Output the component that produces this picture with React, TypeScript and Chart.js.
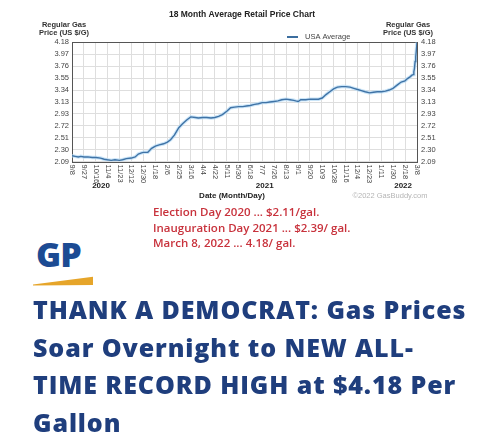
import React, { useEffect, useRef } from "react";
import { Chart, registerables } from "chart.js";

Chart.register(...registerables);

const X_LABELS = ["9/8","9/27","10/16","11/4","11/23","12/12","12/30","1/18","2/6","2/25","3/16","4/4","4/22","5/11","5/30","6/18","7/7","7/26","8/13","9/1","9/20","10/9","10/28","11/16","12/4","12/23","1/11","1/30","2/18","3/8"];
const TOTAL_DAYS = 546;
const Y_TICKS = [4.18, 3.97, 3.76, 3.55, 3.34, 3.13, 2.93, 2.72, 2.51, 2.30, 2.09];
const YEAR_LABELS = ["2020", "2021", "2022"];
const YEAR_DAYS = [46, 305, 524];

const DAYS = [0,5,10,14,19,25,32,38,45,51,56,62,68,75,80,86,94,100,105,110,113,120,126,132,138,145,151,156,162,169,175,182,188,195,200,207,213,220,226,232,238,245,251,257,264,270,276,282,289,295,301,307,313,320,326,332,339,345,351,354,358,362,370,377,384,390,396,402,408,414,420,427,433,440,446,452,458,464,471,477,483,490,496,502,508,515,521,527,531,535,538,540,541,542,543,544,545,546];
const PRICES = [2.19,2.18,2.17,2.18,2.17,2.17,2.16,2.16,2.15,2.13,2.12,2.11,2.12,2.11,2.12,2.14,2.15,2.17,2.22,2.24,2.25,2.25,2.32,2.36,2.38,2.40,2.43,2.47,2.55,2.68,2.75,2.82,2.87,2.86,2.85,2.86,2.86,2.85,2.86,2.88,2.91,2.97,3.03,3.04,3.05,3.05,3.06,3.07,3.09,3.10,3.12,3.12,3.13,3.14,3.15,3.17,3.18,3.17,3.16,3.15,3.14,3.17,3.17,3.18,3.18,3.18,3.20,3.26,3.31,3.36,3.39,3.40,3.40,3.39,3.37,3.35,3.33,3.31,3.29,3.30,3.31,3.31,3.32,3.34,3.37,3.43,3.48,3.50,3.54,3.57,3.60,3.61,3.66,3.72,3.84,3.92,4.04,4.17];

const NOTES = [
  "Election Day 2020 ... $2.11/gal.",
  "Inauguration Day 2021 ... $2.39/ gal.",
  "March 8, 2022 ... 4.18/ gal.",
];
const HEADLINE = ["THANK A DEMOCRAT: Gas Prices", "Soar Overnight to NEW ALL-", "TIME RECORD HIGH at $4.18 Per", "Gallon"];

const FONT = "'Liberation Sans', Arial, sans-serif";

const textPlugin = {
  id: "gbText",
  beforeDatasetsDraw(chart: any) {
    const { ctx, chartArea: a } = chart;
    ctx.save();
    ctx.strokeStyle = "#555";
    ctx.lineWidth = 1;
    ctx.strokeRect(Math.round(a.left) + 0.5, Math.round(a.top) + 0.5, Math.round(a.right - a.left), Math.round(a.bottom - a.top));
    ctx.restore();
  },
  afterDraw(chart: any) {
    const { ctx, chartArea: a, scales } = chart;
    const xs = scales.x;
    const ys = scales.y;
    ctx.save();
    ctx.fillStyle = "#222";
    ctx.textBaseline = "middle";
    ctx.textAlign = "center";
    ctx.font = `bold 8.5px ${FONT}`;
    ctx.fillText("18 Month Average Retail Price Chart", 242, 15);
    ctx.font = `bold 7.5px ${FONT}`;
    ctx.fillStyle = "#333";
    ctx.fillText("Regular Gas", 64, 25);
    ctx.fillText("Price (US $/G)", 64, 33);
    ctx.fillText("Regular Gas", 408, 25);
    ctx.fillText("Price (US $/G)", 408, 33);
    // legend
    ctx.strokeStyle = "#3c6e9f";
    ctx.lineWidth = 2;
    ctx.beginPath();
    ctx.moveTo(287, 37);
    ctx.lineTo(298, 37);
    ctx.stroke();
    ctx.font = `7.5px ${FONT}`;
    ctx.textAlign = "left";
    ctx.fillStyle = "#444";
    ctx.fillText("USA Average", 305, 37);
    // y tick labels
    ctx.font = `7.5px ${FONT}`;
    Y_TICKS.forEach((v) => {
      const y = ys.getPixelForValue(v);
      ctx.textAlign = "right";
      ctx.fillText(v.toFixed(2), a.left - 3, y);
      ctx.textAlign = "left";
      ctx.fillText(v.toFixed(2), a.right + 4, y);
    });
    // x tick labels rotated
    X_LABELS.forEach((lab, i) => {
      const x = xs.getPixelForValue((i * TOTAL_DAYS) / (X_LABELS.length - 1));
      ctx.save();
      ctx.translate(x, a.bottom + 3);
      ctx.rotate(Math.PI / 2);
      ctx.textAlign = "left";
      ctx.textBaseline = "middle";
      ctx.fillText(lab, 0, 0);
      ctx.restore();
    });
    ctx.font = `bold 8px ${FONT}`;
    ctx.textAlign = "center";
    ctx.fillStyle = "#222";
    YEAR_LABELS.forEach((lab, i) => {
      ctx.fillText(lab, xs.getPixelForValue(YEAR_DAYS[i]), 185.5);
    });
    ctx.fillText("Date (Month/Day)", 232, 195.5);
    ctx.font = `7.5px ${FONT}`;
    ctx.fillStyle = "#b5b5b5";
    ctx.fillText("\u00A92022 GasBuddy.com", 390, 195.5);
    ctx.restore();
  },
};

function GasChart() {
  const ref = useRef<HTMLCanvasElement | null>(null);
  useEffect(() => {
    if (!ref.current) return;
    const points = DAYS.map((d, i) => ({ x: d, y: PRICES[i] }));
    const chart = new Chart(ref.current, {
      type: "line",
      data: {
        datasets: [
          { data: points, borderColor: "#3f73a6", borderWidth: 1.4, pointRadius: 0, tension: 0, fill: false },
          { data: points, borderColor: "rgba(185,220,245,0.75)", borderWidth: 3.5, pointRadius: 0, tension: 0, fill: false },
        ],
      },
      options: {
        responsive: false,
        animation: false,
        events: [],
        layout: { padding: { top: 42, left: 0, right: 0, bottom: 0 } },
        plugins: { legend: { display: false }, title: { display: false }, tooltip: { enabled: false } },
        scales: {
          x: {
            type: "linear",
            min: 0,
            max: TOTAL_DAYS,
            ticks: { display: false },
            grid: { color: "#dedede", lineWidth: 1, drawTicks: false },
            border: { display: false },
            afterBuildTicks: (s: any) => {
              s.ticks = X_LABELS.map((_, i) => ({ value: (i * TOTAL_DAYS) / (X_LABELS.length - 1) }));
            },
            afterFit: (s: any) => { s.height = 43.5; },
          },
          y: {
            position: "left",
            min: 2.09,
            max: 4.18,
            ticks: { display: false },
            grid: { color: "#dedede", lineWidth: 1, drawTicks: false },
            border: { display: false },
            afterBuildTicks: (s: any) => { s.ticks = Y_TICKS.map((v) => ({ value: v })); },
            afterFit: (s: any) => { s.width = 72; },
          },
          y2: {
            position: "right",
            min: 2.09,
            max: 4.18,
            ticks: { display: false },
            grid: { display: false, drawTicks: false },
            border: { display: false },
            afterFit: (s: any) => { s.width = 83; },
          },
        },
      },
      plugins: [textPlugin],
    } as any);
    return () => chart.destroy();
  }, []);
  return <canvas ref={ref} width={500} height={205} style={{ position: "absolute", left: 0, top: 0, width: 500, height: 205 }} />;
}

export default function App() {
  useEffect(() => {
    document.body.style.margin = "0";
  }, []);
  return (
    <div style={{ position: "relative", width: 500, height: 447, background: "#fff", overflow: "hidden" }}>
      <GasChart />
      <div
        style={{
          position: "absolute",
          left: 153,
          top: 204,
          fontFamily: "'Open Sans', sans-serif",
          fontWeight: 600,
          fontSize: 11.5,
          lineHeight: "15.5px",
          color: "#c8323c",
          whiteSpace: "nowrap",
        }}
      >
        {NOTES.map((n) => (
          <div key={n}>{n}</div>
        ))}
      </div>
      <div
        style={{
          position: "absolute",
          left: 36,
          top: 237,
          fontFamily: "'Open Sans', sans-serif",
          fontWeight: 800,
          fontSize: 34,
          lineHeight: "34px",
          color: "#1c4b93",
          letterSpacing: -1,
        }}
      >
        GP
      </div>
      <svg width={500} height={447} style={{ position: "absolute", left: 0, top: 0 }}>
        <polygon points="33,284.5 93,276.7 93,285 33,285.4" fill="#e6a52a" />
      </svg>
      <div
        style={{
          position: "absolute",
          left: 33,
          top: 291,
          fontFamily: "'Open Sans', sans-serif",
          fontWeight: 800,
          fontSize: 25,
          lineHeight: "37.5px",
          letterSpacing: 0.9,
          color: "#1f3e7d",
          whiteSpace: "nowrap",
        }}
      >
        {HEADLINE.map((h) => (
          <div key={h}>{h}</div>
        ))}
      </div>
    </div>
  );
}
